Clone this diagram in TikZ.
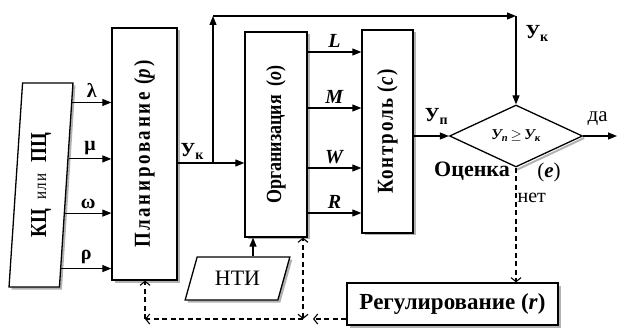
\documentclass[tikz,border=0pt]{standalone}
\usepackage{fontspec}
\setmainfont{Liberation Serif}
\usepackage{tikz}
\usetikzlibrary{shapes.geometric, shadows, arrows.meta, positioning, calc}
\newcommand\fsz[1]{\fontsize{#1}{#1}\selectfont}
\newcommand\vtext[1]{\rotatebox{90}{\scalebox{1}[1.2]{#1}}}
\tikzstyle{box} = [rectangle, draw, line width=1.3pt, fill=white, inner sep=0pt, font=\bfseries, drop shadow={shadow xshift=2.5pt, shadow yshift=-2.5pt, fill=gray!60, opacity=1}]
\tikzstyle{para} = [trapezium, trapezium stretches=true, draw, line width=1.3pt, fill=white, inner sep=0pt, drop shadow={shadow xshift=2.5pt, shadow yshift=-2.5pt, fill=gray!60, opacity=1}]
\tikzstyle{line} = [draw, -{Triangle[length=9pt, width=7pt]}, line width=1.1pt]
\tikzstyle{back} = [draw, dash pattern=on 5pt off 3.5pt, line width=1.1pt, >={Straight Barb[length=4pt, width=10pt]}]
\tikzstyle{lbl} = [font=\bfseries\fsz{20}, inner sep=1pt]

\begin{document}
\begin{tikzpicture}[x=1pt, y=-1pt]
  \useasboundingbox (0,0) rectangle (617,328);
  \node (k) [para, trapezium left angle=86, trapezium right angle=94, minimum width=64, minimum height=204, font=\bfseries] at (41,185) {\vtext{\fsz{19}КЦ\hspace{9pt}{\mdseries\fsz{15}\addfontfeature{LetterSpace=8}или}\hspace{11pt}ПЦ}};
  \node (p) [box, minimum width=65, minimum height=252] at (144.5,154) {\vtext{\fsz{19}\addfontfeature{LetterSpace=14}Планирование (\textit{p})}};
  \node (o) [box, minimum width=62, minimum height=205] at (276,134.5) {\vtext{\fsz{18}Организация \ (\textit{o})}};
  \node (c) [box, minimum width=51, minimum height=203] at (387.5,131.5) {\vtext{\fsz{19}\addfontfeature{LetterSpace=9}Контроль (\textit{c})}};
  \node (e) [diamond, draw, line width=1.3pt, fill=white, minimum width=133, minimum height=62, inner sep=0pt] at (516,136) {\fsz{15}\bfseries\itshape У\textsubscript{п}\,$\geq$\,У\textsubscript{к}};
  \node (r) [box, minimum width=211, minimum height=42] at (452.5,304) {\fsz{23}Регулирование (\textit{r})};
  \node (n) [para, trapezium left angle=65, trapezium right angle=115, minimum width=105, minimum height=43] at (237.5,278.5) {\fsz{22}НТИ};
  \draw[gray!60, line width=2pt] ([shift={(1pt,-2pt)}]e.south) -- ([shift={(1pt,-2pt)}]e.east);

  \foreach \f/\s [count=\i] in {0.098/λ, 0.373/μ, 0.637/ω, 0.907/ρ} {
    \coordinate (g\i) at ($(k.top right corner)!\f!(k.bottom right corner)$);
    \draw[line] (g\i) -- (g\i -| p.west) node[lbl, midway, above=3pt] {\s};
  }
  \foreach \y/\s in {52/L, 108/M, 168/W, 213/R}
    \draw[line] (o.east |- 0,\y) -- (c.west |- 0,\y) node[lbl, midway, above=3pt] {\textit{\s}};

  \coordinate (b) at (213,163);
  \coordinate (t) at (213,16);
  \draw[line] (p.east |- b) -- (o.west |- b) node[lbl, pos=0.22, above=2pt] {У\textsubscript{к}};
  \draw[line] (b) -- (t);
  \draw[line] (t) -- (t -| e.north);
  \draw[line] (t -| e.north) -- (e.north) node[lbl, pos=0.2, right=8pt] {У\textsubscript{к}};
  \draw[line] (c.east |- e.west) -- (e.west) node[lbl, pos=0.65, above=10pt] {У\textsubscript{п}};
  \coordinate (y) at (617,136);
  \draw[line] (e.east) -- (y) node[pos=0.43, above=9pt, inner sep=1pt, font=\fsz{21}] {да};
  \node[lbl, font=\bfseries\fsz{22}] at (472,171) {Оценка};
  \node[inner sep=1pt, font=\fsz{21}] at (549,172) {(\textbf{\textit{e}})};

  \coordinate (q) at ([xshift=15.5pt]n.north);
  \draw[line] (q) -- (q |- o.south);

  \coordinate (j) at (303,319);
  \coordinate (h) at (145,319);
  \draw[back, ->] (e.south) -- (e.south |- r.north) node[pos=0.26, right, inner sep=1pt, font=\fsz{20}] {нет};
  \draw[back, ->] (r.west |- j) -- ([xshift=10pt]j);
  \draw[back, <->] (j) -- (j |- o.south);
  \draw[back, ->] (j) -- (h);
  \draw[back, ->] (h) -- (h |- p.south);
\end{tikzpicture}
\end{document}
